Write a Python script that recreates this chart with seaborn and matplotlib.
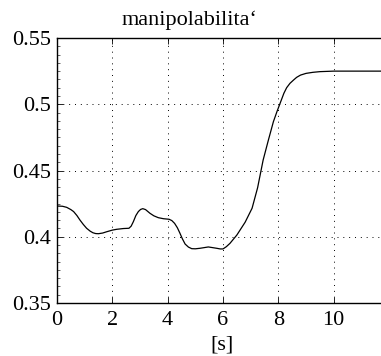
import matplotlib
matplotlib.use("Agg")
import matplotlib.pyplot as plt
import seaborn as sns
import pandas as pd
import numpy as np
from matplotlib.ticker import MultipleLocator

t = [0, 0.2, 0.35, 0.5, 0.6, 0.72, 0.83, 0.95, 1.07, 1.2, 1.3, 1.4, 1.5, 1.65,
     1.8, 2.0, 2.15, 2.4, 2.6, 2.68, 2.76, 2.85, 2.94, 3.02, 3.1, 3.2, 3.36, 3.5,
     3.66, 3.85, 4.05, 4.15, 4.25, 4.35, 4.44, 4.53, 4.63, 4.75, 4.87, 5.0, 5.17,
     5.47, 5.77, 5.9, 6.0, 6.12, 6.25, 6.5, 6.8, 7.05, 7.25, 7.45, 7.64, 7.82,
     7.95, 8.05, 8.2, 8.3, 8.42, 8.55, 8.66, 8.8, 9.0, 9.25, 9.5, 10.0, 11.0, 11.8]
manip = [0.4232, 0.4230, 0.4222, 0.4205, 0.419, 0.4160, 0.4126, 0.4093, 0.4064,
         0.4042, 0.403, 0.4024, 0.4023, 0.4028, 0.4038, 0.4050, 0.4056, 0.4062,
         0.4064, 0.4080, 0.4114, 0.4160, 0.419, 0.4206, 0.4212, 0.4205, 0.4177,
         0.4158, 0.4144, 0.4136, 0.4132, 0.4122, 0.4101, 0.4068, 0.4028, 0.3985,
         0.3945, 0.3922, 0.391, 0.3909, 0.3913, 0.3923, 0.3913, 0.3908, 0.3908,
         0.3925, 0.395, 0.4013, 0.411, 0.4215, 0.437, 0.4579, 0.473, 0.4868,
         0.4945, 0.500, 0.5083, 0.5125, 0.5158, 0.5183, 0.5203, 0.5220, 0.5233,
         0.5241, 0.5246, 0.525, 0.525, 0.525]
xticks = [0, 2, 4, 6, 8, 10]
yticks = [0.35, 0.4, 0.45, 0.5, 0.55]
ytick_labels = ["0.35", "0.4", "0.45", "0.5", "0.55"]
title = "manipolabilita\u2018"
xlabel = "[s]"

sns.set_style("white")
plt.rcParams['font.family'] = ['Liberation Serif', 'DejaVu Serif']

df = pd.DataFrame({"t": t, "m": manip})
fig = plt.figure(figsize=(3.81, 3.56), dpi=100)
ax = fig.add_axes([57/381, 53/356, 324/381, 265/356])
sns.lineplot(data=df, x="t", y="m", ax=ax, color="black", linewidth=0.9)

ax.set_xlim(0, 324/27.67)
ax.set_ylim(0.35, 0.55)
ax.set_xticks(xticks)
ax.set_xticklabels([str(v) for v in xticks])
ax.set_yticks(yticks)
ax.set_yticklabels(ytick_labels)
ax.yaxis.set_minor_locator(MultipleLocator(0.05/8))
ax.tick_params(axis="both", which="major", direction="in", length=4, width=0.6,
               labelsize=16, colors="black", top=True, left=True, bottom=True)
ax.tick_params(axis="y", which="major", pad=4)
ax.tick_params(axis="x", which="major", pad=5.5)
ax.tick_params(axis="y", which="minor", direction="in", length=2, width=0.5, left=True)
ax.grid(True, which="major", linestyle=(0, (1, 5)), color="black", linewidth=0.7)
for s in ["left", "bottom", "top"]:
    ax.spines[s].set_color("black")
    ax.spines[s].set_linewidth(1.0)
ax.spines["right"].set_visible(False)
ax.set_xlabel("")
ax.set_ylabel("")
ax.text((222-57)/324, (303-345)/265, xlabel, transform=ax.transAxes, ha="center",
        va="center", fontsize=16, color="black")
ax.text((189-57)/324, (303-25)/265, title, transform=ax.transAxes, ha="center",
        va="baseline", fontsize=16, color="black")

fig.savefig("out.png", dpi=100)
